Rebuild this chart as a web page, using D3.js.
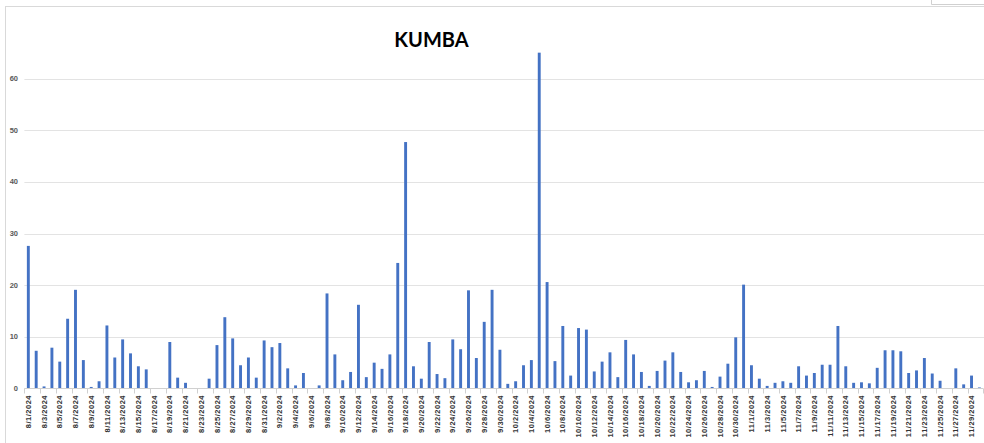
<!DOCTYPE html>
<html>
<head>
<meta charset="utf-8">
<script src="https://cdn.jsdelivr.net/npm/d3@7"></script>
<style>
  html, body { margin: 0; padding: 0; background: #fff; }
  svg { display: block; }
</style>
</head>
<body>
<svg id="chart" width="984" height="443"></svg>
<script>
// Daily counts, 8/1/2024 through 11/30/2024
const startDate = new Date(2024, 7, 1);
const dayCount = 122;
const values = [
  27.6, 7.3, 0.4, 7.9, 5.2, 13.5, 19.1, 5.5, 0.3, 1.4,
  12.2, 6.0, 9.5, 6.8, 4.3, 3.7, 0, 0, 9.0, 2.1,
  1.1, 0, 0, 1.9, 8.4, 13.8, 9.7, 4.5, 6.0, 2.1,
  9.3, 8.0, 8.8, 3.9, 0.6, 3.0, 0, 0.6, 18.4, 6.6,
  1.6, 3.2, 16.2, 2.2, 5.0, 3.8, 6.6, 24.3, 47.7, 4.3,
  1.9, 9.0, 2.8, 2.0, 9.5, 7.6, 19.0, 5.9, 12.9, 19.1,
  7.5, 0.9, 1.4, 4.5, 5.5, 65.0, 20.6, 5.3, 12.1, 2.5,
  11.7, 11.4, 3.3, 5.2, 7.0, 2.2, 9.4, 6.6, 3.2, 0.5,
  3.4, 5.4, 7.0, 3.2, 1.2, 1.6, 3.4, 0.3, 2.3, 4.8,
  9.9, 20.1, 4.5, 1.9, 0.5, 1.1, 1.4, 1.1, 4.3, 2.5,
  3.0, 4.6, 4.6, 12.1, 4.3, 1.1, 1.2, 1.0, 4.0, 7.4,
  7.4, 7.2, 3.0, 3.5, 5.9, 2.9, 1.5, 0, 3.9, 0.8,
  2.5, 0.2
];
const categories = d3.range(dayCount).map(i => {
  const d = d3.timeDay.offset(startDate, i);
  return `${d.getMonth() + 1}/${d.getDate()}/${d.getFullYear()}`;
});
const yTicks = [0, 10, 20, 30, 40, 50, 60];
const title = "KUMBA";

const svg = d3.select("#chart");

// chart frame
svg.append("line").attr("x1", 5.5).attr("x2", 5.5).attr("y1", 6).attr("y2", 443)
  .attr("stroke", "#d9d9d9");
svg.append("line").attr("x1", 5.5).attr("x2", 984).attr("y1", 6.5).attr("y2", 6.5)
  .attr("stroke", "#d9d9d9");
svg.append("path").attr("d", "M931.5,0V4.5H984")
  .attr("fill", "none").attr("stroke", "#d0d0d0");

const x = d3.scaleBand()
  .domain(categories)
  .range([24.4, 24.4 + dayCount * 7.86])
  .paddingInner(0.63)
  .paddingOuter(0.315);

const y = d3.scaleLinear()
  .domain([0, 60])
  .range([388.5, 78.5]);

// gridlines
svg.append("g")
  .selectAll("line")
  .data(yTicks.slice(1))
  .join("line")
  .attr("x1", 24.4).attr("x2", 984)
  .attr("y1", d => Math.round(y(d)) + 0.5)
  .attr("y2", d => Math.round(y(d)) + 0.5)
  .attr("stroke", "#e3e3e3");

// y labels
svg.append("g")
  .selectAll("text")
  .data(yTicks)
  .join("text")
  .attr("x", 18)
  .attr("y", d => y(d))
  .attr("dy", "0.35em")
  .attr("text-anchor", "end")
  .attr("font-family", "Liberation Sans, Arial, sans-serif")
  .attr("font-weight", "bold")
  .attr("font-size", 7.5)
  .attr("fill", "#595959")
  .text(d => d);

// bars
svg.append("g")
  .selectAll("rect")
  .data(values)
  .join("rect")
  .attr("x", (d, i) => x(categories[i]))
  .attr("width", x.bandwidth())
  .attr("y", d => y(d))
  .attr("height", d => y(0) - y(d))
  .attr("fill", "#4472c4");

// category axis
const step = x.step();
const x0 = x.range()[0];
svg.append("line")
  .attr("x1", x0).attr("x2", x.range()[1])
  .attr("y1", 388.5).attr("y2", 388.5)
  .attr("stroke", "#d0d0d0");
svg.append("g")
  .selectAll("line")
  .data(d3.range(0, dayCount + 1, 2))
  .join("line")
  .attr("x1", k => Math.round(x0 + k * step) + 0.5)
  .attr("x2", k => Math.round(x0 + k * step) + 0.5)
  .attr("y1", 388.5).attr("y2", 393.5)
  .attr("stroke", "#d0d0d0");

svg.append("g")
  .selectAll("text")
  .data(categories.filter((c, i) => i % 2 === 0))
  .join("text")
  .attr("transform", c => `translate(${x(c) + x.bandwidth() / 2},395) rotate(-90)`)
  .attr("dy", "0.35em")
  .attr("text-anchor", "end")
  .attr("font-family", "Liberation Sans, Arial, sans-serif")
  .attr("font-weight", "bold")
  .attr("font-size", 7.5)
  .attr("letter-spacing", 0.5)
  .attr("fill", "#333")
  .text(c => c);

// title
svg.append("text")
  .attr("x", 431.5)
  .attr("y", 47)
  .attr("text-anchor", "middle")
  .attr("font-family", "Lato, Liberation Sans, sans-serif")
  .attr("font-weight", "bold")
  .attr("font-size", 20)
  .attr("fill", "#000")
  .text(title);
</script>
</body>
</html>
